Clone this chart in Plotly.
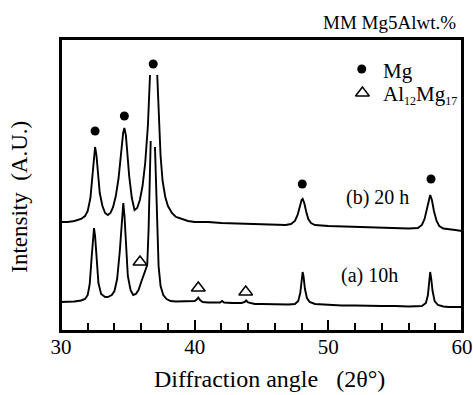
import plotly.graph_objects as go

# ---- data (2theta in degrees, intensity in arbitrary units) ----
b_20h_x = [30.0, 30.5, 31.0, 31.5, 31.8, 32.0, 32.2, 32.35, 32.45, 32.55, 32.65, 32.75, 32.9, 33.1,
           33.3, 33.5, 33.7, 33.9, 34.1, 34.3, 34.5, 34.65, 34.74, 34.85, 34.95, 35.1, 35.3, 35.5,
           35.7, 35.9, 36.1, 36.3, 36.5, 36.6, 36.66, 36.93, 37.2, 37.3, 37.45, 37.6, 37.8, 38.0,
           38.3, 38.6, 39.0, 39.5, 40.0, 41.0, 42.0, 43.0, 44.0, 45.0, 46.0, 46.8, 47.2, 47.5,
           47.7, 47.85, 48.0, 48.08, 48.2, 48.35, 48.5, 48.7, 49.0, 50.0, 51.0, 52.0, 53.0, 54.0,
           55.0, 56.0, 56.7, 57.0, 57.2, 57.4, 57.55, 57.62, 57.75, 57.9, 58.1, 58.3, 58.6, 59.0,
           59.5, 60.0]
b_20h_y = [109, 109, 110, 112, 115, 120, 133, 155, 175, 184, 176, 158, 138, 125,
           118, 116, 118, 124, 135, 152, 180, 198, 203, 196, 180, 155, 133, 121,
           123, 131, 145, 168, 205, 232, 256, None, 256, 215, 175, 150, 134, 125,
           118, 114, 112, 110, 109, 109, 108, 107.5, 107, 107, 106, 106, 107, 110,
           116, 125, 131, 132, 128, 119, 112, 108, 106, 105, 104.5, 104, 104, 103,
           103, 102.5, 103, 106, 112, 124, 134, 136, 131, 120, 110, 105, 102.5, 101.5,
           101, 100]

a_10h_x = [30.0, 30.5, 31.0, 31.5, 31.8, 32.0, 32.15, 32.3, 32.4, 32.47, 32.55, 32.65, 32.8, 33.0,
           33.3, 33.5, 33.8, 34.0, 34.2, 34.4, 34.55, 34.66, 34.75, 34.85, 35.0, 35.2, 35.4, 35.6,
           35.8, 36.0, 36.2, 36.33, 36.45, 36.55, 36.63, 36.71, 36.87, 37.03, 37.12, 37.2,
           37.3, 37.45, 37.65, 37.9, 38.2, 38.6, 39.0, 39.5, 40.0, 40.15, 40.27, 40.4, 40.6, 41.0,
           41.5, 41.9, 42.05, 42.2, 42.8, 43.5, 43.75, 43.85, 44.0, 44.5, 45.0, 46.0, 47.0, 47.5,
           47.75, 47.9, 48.0, 48.08, 48.15, 48.25, 48.4, 48.6, 49.0, 50.0, 51.0, 52.0, 53.0, 54.0,
           55.0, 56.0, 57.0, 57.3, 57.45, 57.55, 57.62, 57.7, 57.8, 57.95, 58.2, 58.6, 59.0, 60.0]
a_10h_y = [29, 29, 29.5, 30.5, 32, 36, 47, 75, 98, 103, 95, 72, 48, 37,
           34, 34, 36, 40, 52, 80, 115, 128, 115, 85, 55, 41, 36, 37,
           41, 49, 57, 60, 66, 100, 160, 190, None, 184, 140, 95,
           65, 45, 36, 32, 30, 29.5, 29.5, 29.5, 30, 31.5, 33.5, 31, 29, 28.5,
           28.5, 28.5, 30, 28.5, 28, 28, 29, 30.5, 28.5, 27, 27, 26.5, 26.5, 27,
           30, 38, 52, 59, 54, 42, 33, 29, 27, 26, 25.5, 25.5, 25, 25,
           25, 24.5, 25, 28, 36, 50, 59, 52, 40, 30, 26, 24.5, 24, 24]

mg_peaks_x = [32.55, 34.74, 36.9, 48.05, 57.68]
mg_peaks_y = [200, 215, 267, 147, 152]
al12mg17_x = [35.91, 40.27, 43.82]
al12mg17_y = [69, 43, 39]

xtick_vals = [30, 40, 50, 60]
xtick_text = ["30", "40", "50", "60"]

SERIF = "Liberation Serif, Times New Roman, serif"

fig = go.Figure()
fig.add_trace(go.Scatter(x=b_20h_x, y=b_20h_y, mode="lines",
                         line=dict(color="black", width=1.9), connectgaps=False,
                         showlegend=False, hoverinfo="skip"))
fig.add_trace(go.Scatter(x=a_10h_x, y=a_10h_y, mode="lines",
                         line=dict(color="black", width=1.9), connectgaps=False,
                         showlegend=False, hoverinfo="skip"))
fig.add_trace(go.Scatter(x=mg_peaks_x, y=mg_peaks_y, mode="markers",
                         marker=dict(symbol="circle", size=9, color="black"),
                         showlegend=False, hoverinfo="skip"))
fig.add_trace(go.Scatter(x=al12mg17_x, y=al12mg17_y, mode="markers",
                         marker=dict(symbol="triangle-up-open", size=12, color="black",
                                     line=dict(width=1.5, color="black")),
                         showlegend=False, hoverinfo="skip"))
# in-plot legend markers
fig.add_trace(go.Scatter(x=[52.5], y=[262], mode="markers",
                         marker=dict(symbol="circle", size=9, color="black"),
                         showlegend=False, hoverinfo="skip"))
fig.add_trace(go.Scatter(x=[52.55], y=[238], mode="markers",
                         marker=dict(symbol="triangle-up-open", size=12, color="black",
                                     line=dict(width=1.5, color="black")),
                         showlegend=False, hoverinfo="skip"))

anns = [
    dict(x=53.95, y=260, xref="x", yref="y", text="Mg", showarrow=False,
         xanchor="left", yanchor="middle", font=dict(family=SERIF, size=21, color="black")),
    dict(x=53.95, y=236, xref="x", yref="y",
         text="Al<sub><span style='font-size:12px'>12</span></sub>Mg<sub><span style='font-size:12px'>17</span></sub>",
         showarrow=False, xanchor="left", yanchor="middle",
         font=dict(family=SERIF, size=21, color="black")),
    dict(x=53.7, y=134, xref="x", yref="y", text="(b) 20 h", showarrow=False,
         xanchor="center", yanchor="middle", font=dict(family=SERIF, size=20, color="black")),
    dict(x=53.1, y=56, xref="x", yref="y", text="(a) 10h", showarrow=False,
         xanchor="center", yanchor="middle", font=dict(family=SERIF, size=20, color="black")),
    dict(x=0.99, y=1.058, xref="paper", yref="paper", text="MM Mg5Alwt.%", showarrow=False,
         xanchor="right", yanchor="middle", font=dict(family=SERIF, size=19, color="black")),
    dict(x=-0.102, y=0.46, xref="paper", yref="paper", text="Intensity  (A.U.)", showarrow=False,
         textangle=-90, xanchor="center", yanchor="middle",
         font=dict(family=SERIF, size=23, color="black")),
    dict(x=0.521, y=-0.165, xref="paper", yref="paper", text="Diffraction angle   (2θ°)",
         showarrow=False, xanchor="center", yanchor="middle",
         font=dict(family=SERIF, size=24, color="black")),
]

fig.update_layout(
    width=473, height=395,
    margin=dict(l=61, r=11, t=39, b=64, autoexpand=False),
    paper_bgcolor="white", plot_bgcolor="white",
    annotations=anns,
    shapes=[dict(type="rect", xref="paper", yref="paper", x0=0, x1=1, y0=0, y1=1,
                 line=dict(color="black", width=2), fillcolor="rgba(0,0,0,0)", layer="above")],
    xaxis=dict(range=[30, 60], showgrid=False, zeroline=False, automargin=False,
               showline=True, linecolor="black", linewidth=2, mirror=True,
               ticks="inside", ticklen=11, tickwidth=1.5, tickcolor="black",
               tickvals=xtick_vals, ticktext=xtick_text, ticklabelstandoff=-4,
               minor=dict(dtick=2, ticks="inside", ticklen=8, tickwidth=1.5, tickcolor="black", showgrid=False),
               tickfont=dict(family=SERIF, size=21, color="black")),
    yaxis=dict(range=[0, 292], showgrid=False, zeroline=False, automargin=False,
               showline=True, linecolor="black", linewidth=2, mirror=True,
               showticklabels=False, ticks=""),
)

fig.write_html("out.html",
               config={"displayModeBar": False, "responsive": False},
               post_script="document.body.style.margin='0';document.body.style.padding='0';document.body.style.overflow='hidden';")
